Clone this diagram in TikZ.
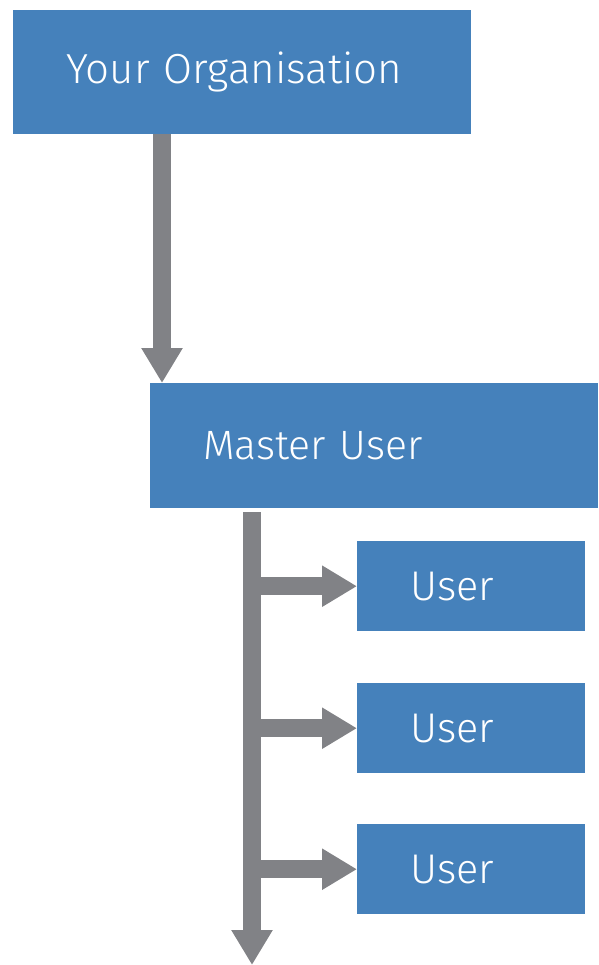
\documentclass[tikz,border=0pt]{standalone}
\usepackage{fontspec}
\setmainfont{Fira Sans}[UprightFont={* Light}]
\usetikzlibrary{arrows.meta}

\definecolor{boxblue}{HTML}{4581BB}
\definecolor{flowgray}{HTML}{818286}

\tikzset{
  box/.style={fill=boxblue, text=white, inner xsep=53pt, inner ysep=0pt, align=left, anchor=north west},
  flow/.style={draw=flowgray, line width=18pt, -{Triangle[width=39pt,length=35pt]}}
}

\begin{document}
\begin{tikzpicture}[x=1pt,y=-1pt]

\useasboundingbox (0,0) rectangle (598,965);

% The organisation and the master user
\node[box, text width=352pt, minimum height=124pt, font=\fontsize{42}{46}\selectfont] (org) at (13,10) {\mbox{Your Organisation}};
\node[box, text width=342pt, minimum height=125pt, font=\fontsize{41}{46}\selectfont] (master) at (150,383) {Master User};

% The users
\node[box, text width=122pt, minimum height=90pt, font=\fontsize{41.5}{46}\selectfont] (user1) at (357,541) {User};
\node[box, text width=122pt, minimum height=90pt, font=\fontsize{41.5}{46}\selectfont] (user2) at (357,683) {User};
\node[box, text width=122pt, minimum height=90pt, font=\fontsize{41.5}{46}\selectfont] (user3) at (357,824) {User};

% The arrow from the organisation down to the master user
\coordinate (down) at (162,0);
\draw[flow] (org.south -| down) -- (master.north -| down);

% The trunk under the master user and its end
\coordinate (trunk) at (252,0);
\coordinate (trunkend) at (252,965);
\draw[flow, shorten <=4pt] (master.south -| trunk) -- (trunkend);

% The branches to the users
\foreach \u in {user1,user2,user3}
  \draw[flow] (\u.west -| trunk) -- (\u.west);

\end{tikzpicture}
\end{document}
